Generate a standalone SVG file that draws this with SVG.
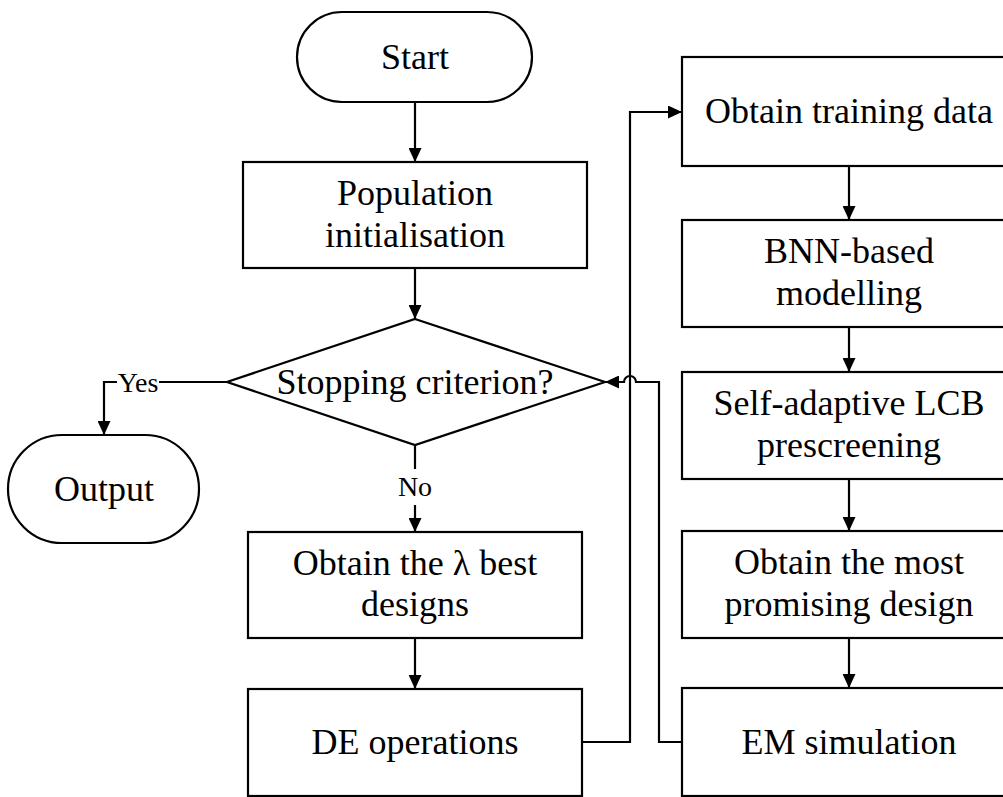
<svg xmlns="http://www.w3.org/2000/svg" width="1003" height="797" viewBox="0 0 1003 797">
  <style>
    .shape { fill: #ffffff; stroke: #000000; stroke-width: 2.2; }
    .line { fill: none; stroke: #000000; stroke-width: 2.2; }
    .txt { font-family: "Liberation Serif", "Times New Roman", serif; font-size: 36px; fill: #000000; text-anchor: middle; }
    .lbl { font-family: "Liberation Serif", "Times New Roman", serif; font-size: 28px; fill: #000000; text-anchor: middle; }
  </style>
  <defs>
    <marker id="arrow" viewBox="0 0 14 13" refX="14" refY="6.5" markerWidth="14" markerHeight="13" orient="auto" markerUnits="userSpaceOnUse">
      <path d="M0,0 L14,6.5 L0,13 z" fill="#000000"/>
    </marker>
  </defs>
  <rect width="1003" height="797" fill="#ffffff"/>

  <!-- connectors -->
  <g id="connectors">
    <path class="line" d="M415 102 V162" marker-end="url(#arrow)"/>
    <path class="line" d="M415 268 V319" marker-end="url(#arrow)"/>
    <path class="line" d="M227 382 H159"/>
    <path class="line" d="M117 382 H104 V435" marker-end="url(#arrow)"/>
    <path class="line" d="M415 445 V469"/>
    <path class="line" d="M415 505 V532" marker-end="url(#arrow)"/>
    <path class="line" d="M415 638 V689" marker-end="url(#arrow)"/>
    <path class="line" d="M582 742 H630 V112 H682" marker-end="url(#arrow)"/>
    <path class="line" d="M682 742 H659 V382 H636 A6 6 0 0 0 624 382 H605" marker-end="url(#arrow)"/>
    <path class="line" d="M849 166 V220" marker-end="url(#arrow)"/>
    <path class="line" d="M849 327 V372" marker-end="url(#arrow)"/>
    <path class="line" d="M849 479 V531" marker-end="url(#arrow)"/>
    <path class="line" d="M849 638 V688" marker-end="url(#arrow)"/>
    <text class="lbl" x="138" y="392">Yes</text>
    <text class="lbl" x="415" y="496">No</text>
  </g>

  <g id="start">
    <rect class="shape" x="297" y="12" width="235" height="90" rx="45" ry="45"/>
    <text class="txt" x="415" y="69">Start</text>
  </g>

  <g id="population-init">
    <rect class="shape" x="243" y="162" width="344" height="106"/>
    <text class="txt" x="415" y="205">Population</text>
    <text class="txt" x="415" y="247">initialisation</text>
  </g>

  <g id="stopping-criterion">
    <polygon class="shape" points="415,319 605,382 415,445 227,382"/>
    <text class="txt" x="415" y="394">Stopping criterion?</text>
  </g>

  <g id="output">
    <rect class="shape" x="8" y="435" width="191" height="108" rx="54" ry="54"/>
    <text class="txt" x="104" y="501">Output</text>
  </g>

  <g id="best-designs">
    <rect class="shape" x="248" y="532" width="334" height="106"/>
    <text class="txt" x="415" y="575">Obtain the λ best</text>
    <text class="txt" x="415" y="616">designs</text>
  </g>

  <g id="de-operations">
    <rect class="shape" x="248" y="689" width="334" height="107"/>
    <text class="txt" x="415" y="754">DE operations</text>
  </g>

  <g id="training-data">
    <rect class="shape" x="682" y="57" width="334" height="109"/>
    <text class="txt" x="849" y="123">Obtain training data</text>
  </g>

  <g id="bnn-modelling">
    <rect class="shape" x="682" y="220" width="334" height="107"/>
    <text class="txt" x="849" y="263">BNN-based</text>
    <text class="txt" x="849" y="305">modelling</text>
  </g>

  <g id="lcb-prescreening">
    <rect class="shape" x="682" y="372" width="334" height="107"/>
    <text class="txt" x="849" y="415">Self-adaptive LCB</text>
    <text class="txt" x="849" y="457">prescreening</text>
  </g>

  <g id="promising-design">
    <rect class="shape" x="682" y="531" width="334" height="107"/>
    <text class="txt" x="849" y="574">Obtain the most</text>
    <text class="txt" x="849" y="616">promising design</text>
  </g>

  <g id="em-simulation">
    <rect class="shape" x="682" y="688" width="334" height="108"/>
    <text class="txt" x="849" y="754">EM simulation</text>
  </g>
</svg>
